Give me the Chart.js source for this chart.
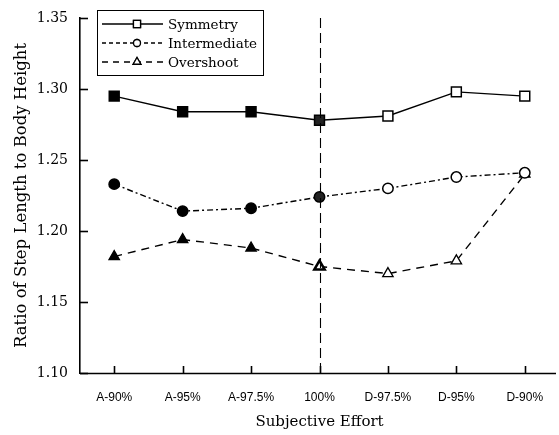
<!DOCTYPE html>
<html>
<head>
<meta charset="utf-8">
<script src="https://cdn.jsdelivr.net/npm/chart.js@4.4.0/dist/chart.umd.min.js"></script>
<style>
html,body{margin:0;padding:0;background:#fff;}
#wrap{width:559px;height:435px;}
</style>
</head>
<body>
<div id="wrap"><canvas id="c" width="559" height="435"></canvas></div>
<script>
const categories = ['A-90%','A-95%','A-97.5%','100%','D-97.5%','D-95%','D-90%'];
const symmetry = [1.295,1.284,1.284,1.278,1.281,1.298,1.295];
const intermediate = [1.233,1.214,1.216,1.224,1.230,1.238,1.241];
const overshoot = [1.182,1.194,1.188,1.175,1.170,1.179,1.240];
const yTickValues = [1.10,1.15,1.20,1.25,1.30,1.35];
const seriesNames = ['Symmetry','Intermediate','Overshoot'];
const dividerCategory = '100%';

const fillS = ['#000','#000','#000','#222','#fff','#fff','#fff'];
const fillI = ['#000','#000','#000','#222','#fff','#fff','#fff'];
const fillO = ['#000','#000','#000','#fff','#fff','#fff','#fff'];
const bwO = [1.3,1.3,1.3,2.5,1.3,1.3,1.3];

const serif = '"DejaVu Serif", "Liberation Serif", serif';
const sans = '"Liberation Sans", Arial, sans-serif';

const decor = {
  id:'decor',
  afterDraw(chart){
    const ctx = chart.ctx, x = chart.scales.x, y = chart.scales.y, a = chart.chartArea;
    ctx.save();
    ctx.strokeStyle = '#000';
    ctx.lineWidth = 1.6;
    // x axis line
    ctx.beginPath(); ctx.moveTo(a.left, a.bottom+0.5); ctx.lineTo(556, a.bottom+0.5); ctx.stroke();
    // inward ticks on y
    yTickValues.forEach(v=>{
      const py = Math.round(y.getPixelForValue(v))+0.5;
      ctx.beginPath(); ctx.moveTo(a.left, py); ctx.lineTo(a.left+8, py); ctx.stroke();
    });
    // inward ticks on x
    categories.forEach((c,i)=>{
      const px = Math.round(x.getPixelForValue(i))+0.5;
      ctx.beginPath(); ctx.moveTo(px, a.bottom); ctx.lineTo(px, a.bottom-7); ctx.stroke();
    });
    // vertical divider
    const dx = Math.round(x.getPixelForValue(categories.indexOf(dividerCategory)))+0.5;
    ctx.lineWidth = 1.1;
    ctx.setLineDash([10,5]);
    ctx.beginPath(); ctx.moveTo(dx, a.top); ctx.lineTo(dx, a.bottom); ctx.stroke();
    ctx.setLineDash([]);
    // legend
    const lx = 97, ly = 10, lw = 166, lh = 65;
    ctx.fillStyle = '#fff';
    ctx.fillRect(lx, ly, lw, lh);
    ctx.lineWidth = 1;
    ctx.strokeRect(lx+0.5, ly+0.5, lw, lh);
    const dashes = [[], [4,3], [6,5]];
    const styles = ['rect','circle','triangle'];
    ctx.font = '13.5px ' + serif;
    ctx.textBaseline = 'middle';
    seriesNames.forEach((n,i)=>{
      const yy = ly + 14 + i*19;
      ctx.strokeStyle = '#000';
      ctx.lineWidth = 1.3;
      ctx.setLineDash(dashes[i]);
      ctx.beginPath(); ctx.moveTo(lx+5, yy); ctx.lineTo(lx+66, yy); ctx.stroke();
      ctx.setLineDash([]);
      ctx.fillStyle = '#fff';
      Chart.helpers.drawPoint(ctx, {pointStyle:styles[i], radius: i===0?5:(i===1?3.5:4.5), borderWidth:1.3}, lx+40, yy);
      ctx.fill(); ctx.stroke();
      ctx.fillStyle = '#000';
      ctx.fillText(n, lx+71, yy+1);
    });
    ctx.restore();
  }
};

const common = {borderColor:'#000', borderWidth:1.4, pointBorderColor:'#000', tension:0, fill:false};

new Chart(document.getElementById('c'), {
  type:'line',
  data:{
    labels:categories,
    datasets:[
      Object.assign({label:seriesNames[0], data:symmetry, pointStyle:'rect', pointRadius:7, pointBorderWidth:1.5, pointBackgroundColor:fillS}, common),
      Object.assign({label:seriesNames[1], data:intermediate, pointStyle:'circle', pointRadius:5.2, pointBorderWidth:1.5, borderDash:[6,3,2,3], pointBackgroundColor:fillI}, common),
      Object.assign({label:seriesNames[2], data:overshoot, pointStyle:'triangle', pointRadius:6, pointBorderWidth:bwO, borderDash:[8,6], pointBackgroundColor:fillO}, common)
    ]
  },
  options:{
    responsive:false,
    animation:false,
    layout:{autoPadding:false, padding:{top:18, right:-4, left:0, bottom:0}},
    plugins:{legend:{display:false}, tooltip:{enabled:false}},
    scales:{
      x:{
        offset:true,
        grid:{display:false},
        border:{display:false},
        ticks:{color:'#000', font:{family:sans, size:12}, padding:9, maxRotation:0, autoSkip:false},
        title:{display:true, text:'Subjective Effort', color:'#000', font:{family:serif, size:15}, padding:{top:12}},
        afterFit(s){ s.height = 62; s.paddingLeft = 0; s.paddingRight = -4; }
      },
      y:{
        min:1.10, max:1.35,
        afterBuildTicks(s){ s.ticks = yTickValues.map(v=>({value:v})); },
        grid:{display:false},
        border:{display:true, color:'#000', width:1.6},
        ticks:{color:'#000', font:{family:serif, size:14}, padding:4, callback:v=>v.toFixed(2)},
        title:{display:true, text:'Ratio of Step Length to Body Height', color:'#000', font:{family:serif, size:16.5}, padding:{top:12, bottom:0}},
        afterFit(s){ s.width = 80; s.paddingTop = 0; s.paddingBottom = 0; }
      }
    }
  },
  plugins:[decor]
});
</script>
</body>
</html>
